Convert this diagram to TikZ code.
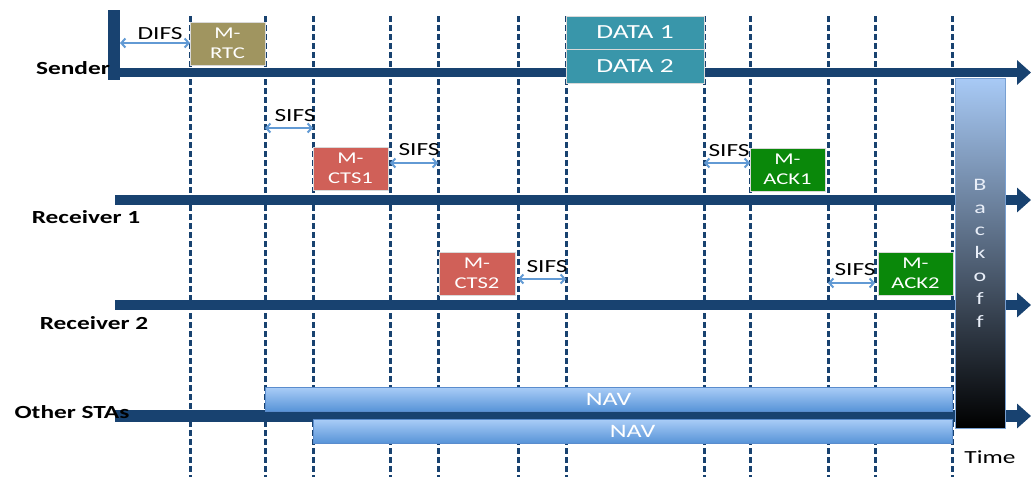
\documentclass[tikz,border=0pt]{standalone}
\usepackage{fontspec}
\setmainfont[FakeStretch=1.37]{Carlito}
\usetikzlibrary{arrows.meta}

\definecolor{lanecol}{RGB}{24,66,112}
\definecolor{gapcol}{RGB}{98,154,212}
\definecolor{rtccol}{RGB}{160,149,96}
\definecolor{datacol}{RGB}{57,150,170}
\definecolor{ctscol}{RGB}{208,96,88}
\definecolor{ackcol}{RGB}{10,136,10}
\definecolor{navtop}{RGB}{170,205,247}
\definecolor{navbot}{RGB}{88,148,216}
\definecolor{navedge}{RGB}{90,140,205}
\definecolor{bofftop}{RGB}{168,202,246}
\definecolor{boffedge}{RGB}{120,160,210}
\definecolor{bofftext}{RGB}{232,238,248}

\begin{document}
\begin{tikzpicture}[x=1pt,y=-1pt,
  tick/.style={draw=lanecol, line width=3pt, dash pattern=on 6pt off 3pt},
  lane/.style={draw=lanecol, line width=#1, -{Triangle[length=14pt,width=24pt]}},
  gap/.style={draw=gapcol, line width=2pt,
    {Straight Barb[length=4pt,width=9pt]}-{Straight Barb[length=4pt,width=9pt]}},
  msg/.style={rectangle, draw=white!70!gray, line width=0.5pt, text=white,
    align=center, inner sep=0pt, font=\fontsize{16.5}{20}\selectfont},
  navbar/.style={rectangle, draw=navedge, line width=0.5pt, top color=navtop,
    bottom color=navbot, text=white, inner sep=0pt, minimum height=24pt,
    font=\fontsize{19}{20}\selectfont},
  who/.style={anchor=base, inner sep=0pt, font=\bfseries\fontsize{18.5}{20}\selectfont},
  gaptext/.style={anchor=base, inner sep=0pt, font=\fontsize{18.5}{20}\selectfont},
]
\useasboundingbox (0,0) rectangle (1031,477);

% slot boundaries
\foreach \n/\x in {1/190,2/265,3/313,4/390,5/438,6/518,7/566,8/704,9/750,10/828,11/875,12/952}{
  \coordinate (top\n) at (\x,16);
  \coordinate (bot\n) at (\x,477);
  \draw[tick] (top\n) -- (bot\n);
}

% station time axes
\coordinate (barT) at (114,10);
\coordinate (barB) at (114,80);
\draw[draw=lanecol, line width=12pt] (barT) -- (barB);
\coordinate (sndL) at (120,72.5);  \coordinate (sndR) at (1031,72.5);
\coordinate (rx1L) at (115,200);   \coordinate (rx1R) at (1031,200);
\coordinate (rx2L) at (115,305);   \coordinate (rx2R) at (1031,305);
\coordinate (staL) at (115,416);   \coordinate (staR) at (1031,416);
\draw[lane=9pt]  (sndL) -- (sndR);
\draw[lane=10pt] (rx1L) -- (rx1R);
\draw[lane=10pt] (rx2L) -- (rx2R);
\draw[lane=12pt] (staL) -- (staR);

\node[who] (sender) at (73,74)  {Sender};
\node[who] (recv1)  at (86,223) {Receiver 1};
\node[who] (recv2)  at (94,329) {Receiver 2};
\node[who] (others) at (72,418) {Other STAs};

% frames
\node[msg, fill=rtccol, minimum width=75pt, minimum height=43pt] (rtc) at (227.5,43.5) {M-\\RTC};
\node[msg, fill=datacol, minimum width=138pt, minimum height=33pt, font=\fontsize{20}{22}\selectfont] (data1) at (635,32.5) {DATA 1};
\node[msg, fill=datacol, minimum width=138pt, minimum height=34pt, font=\fontsize{20}{22}\selectfont] (data2) at (635,66) {DATA 2};
\node[msg, fill=ctscol, minimum width=75pt, minimum height=43pt] (cts1) at (350.5,168.5) {M-\\CTS1};
\node[msg, fill=ctscol, minimum width=76pt, minimum height=43pt] (cts2) at (477,273.5) {M-\\CTS2};
\node[msg, fill=ackcol, minimum width=75pt, minimum height=43pt] (ack1) at (787.5,169.5) {M-\\ACK1};
\node[msg, fill=ackcol, minimum width=75pt, minimum height=43pt] (ack2) at (915.5,273.5) {M-\\ACK2};

% interframe spaces
\draw[gap] (barT |- 0,43) ++(6,0) coordinate (difsL) -- (top1 |- 0,43) coordinate (difsR);
\node[gaptext] (difs) at (160,39) {DIFS};
\draw[gap] (top2 |- 0,128) -- (top3 |- 0,128);
\node[gaptext] (sifs1) at (295,121) {SIFS};
\draw[gap] (top4 |- 0,163) -- (top5 |- 0,163);
\node[gaptext] (sifs2) at (419,155) {SIFS};
\draw[gap] (top6 |- 0,279) -- (top7 |- 0,279);
\node[gaptext] (sifs3) at (547,272) {SIFS};
\draw[gap] (top8 |- 0,163) -- (top9 |- 0,163);
\node[gaptext] (sifs4) at (729,156) {SIFS};
\draw[gap] (top10 |- 0,283) -- (top11 |- 0,283);
\node[gaptext] (sifs5) at (855,275) {SIFS};

% network allocation vectors
\node[navbar, minimum width=687pt] (nav1) at (608.5,399) {NAV};
\node[navbar, minimum width=639pt] (nav2) at (632.5,431) {NAV};

% backoff window
\node[rectangle, draw=boffedge, line width=0.6pt, top color=bofftop, bottom color=black,
  minimum width=50pt, minimum height=350pt, inner sep=0pt, text=bofftext, align=center,
  font=\fontsize{17.5}{22.8}\selectfont] (backoff) at (980,253) {B\\a\\c\\k\\o\\f\\f};

\node[gaptext] (time) at (990,463) {Time};
\end{tikzpicture}
\end{document}
